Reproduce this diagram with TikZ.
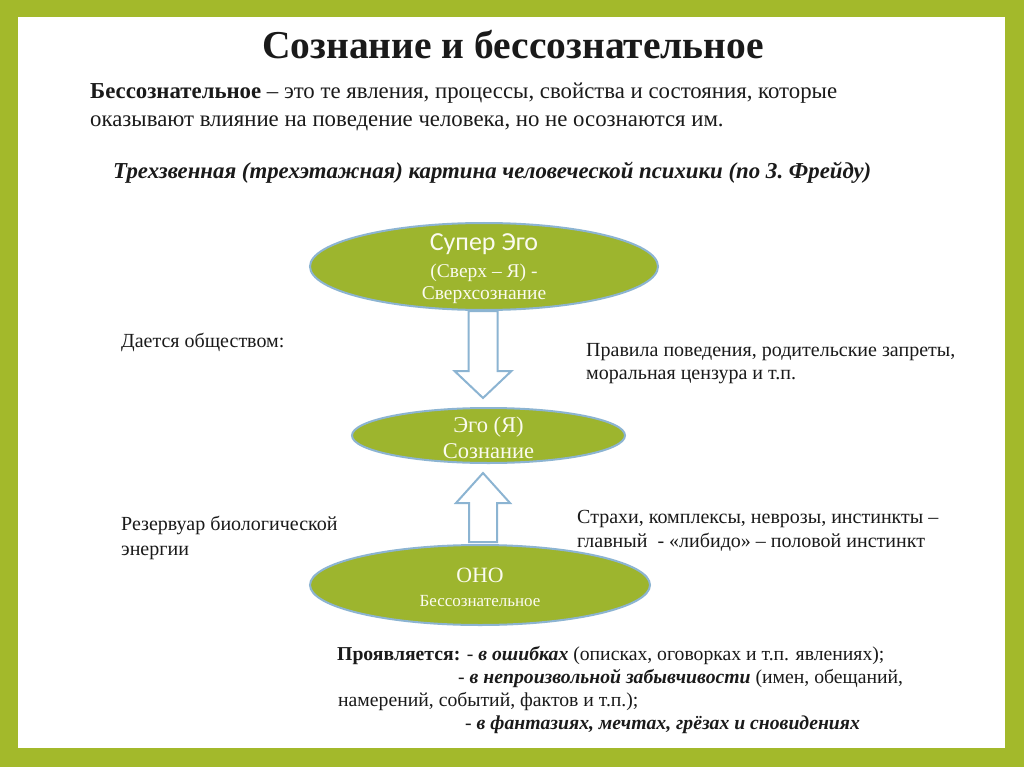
\documentclass[tikz,border=0pt]{standalone}
\usepackage{fontspec}
\setmainfont{Liberation Serif}
\newfontfamily\carl{Carlito}
\usetikzlibrary{shapes.geometric,calc}
\definecolor{frame}{HTML}{A3B92B}
\definecolor{olive}{HTML}{9DB52E}
\definecolor{edge}{HTML}{8CB4D2}
\definecolor{cream}{HTML}{FBFBEF}
\definecolor{ink}{HTML}{1A1A1A}
\tikzset{
  oval/.style={ellipse, draw=edge, line width=2pt, fill=olive, inner sep=0pt},
  ovaltext/.style={anchor=base, inner sep=0pt, text=cream, align=center},
  blockarrow/.style={draw=edge, line width=2pt, fill=white, line join=miter},
  txt/.style={anchor=base west, inner sep=0pt, text=ink, align=left},
}
\begin{document}
\begin{tikzpicture}[x=1pt,y=-1pt]
\useasboundingbox (0,0) rectangle (1024,767);
\fill[frame] (0,0) rectangle (1024,767);
\fill[white] (18,17) rectangle (1005,748);
% title
\node[anchor=base, inner sep=0pt, text=ink, font=\fontsize{39.5}{44}\selectfont\bfseries] (title) at (513,59) {Сознание и бессознательное};
\node[txt, font=\fontsize{22.8}{27.5}\selectfont] (def) at (90,126.5) {\textbf{Бессознательное} – это те явления, процессы, свойства и состояния, которые\\ оказывают влияние на поведение человека, но не осознаются им.};
\node[txt, font=\fontsize{22.8}{26}\selectfont\bfseries\itshape] (sub) at (113,179) {Трехзвенная (трехэтажная) картина человеческой психики (по З. Фрейду)};
% ellipses
\node[oval, minimum width=348, minimum height=87] (sup) at (484,266.5) {};
\node[ovaltext, font=\fontsize{19.5}{22}\selectfont] (suptext) at ($(sup.center)+(0,32.5)$)
  {{\carl\fontsize{26}{22}\selectfont Супер Эго}\\[5pt](Сверх – Я) -\\Сверхсознание};
\node[oval, minimum width=273, minimum height=55] (ego) at (488.5,435.5) {};
\node[ovaltext, font=\fontsize{22.5}{26}\selectfont] (egotext) at ($(ego.center)+(0,23)$)
  {Эго (Я)\\Сознание};
\node[oval, minimum width=340, minimum height=80] (ono) at (480,585) {};
\node[ovaltext, font=\fontsize{17}{24}\selectfont] (onotext) at ($(ono.center)+(0,21.5)$)
  {{\fontsize{21.8}{24}\selectfont ОНО}\\Бессознательное};
\coordinate (ax) at (483,0);
% down arrow
\draw[blockarrow] ($(sup.south -| ax)+(-14.5,0)$) -- ($(sup.south -| ax)+(14.5,0)$)
  -- ($(ego.north -| ax)+(14.5,-36)$) -- ($(ego.north -| ax)+(28.5,-36)$)
  -- ($(ego.north -| ax)+(0,-9)$) -- ($(ego.north -| ax)+(-28.5,-36)$)
  -- ($(ego.north -| ax)+(-14.5,-36)$) -- cycle;
% up arrow
\draw[blockarrow] ($(ono.north -| ax)+(-14,-2)$) -- ($(ono.north -| ax)+(14,-2)$)
  -- ($(ego.south -| ax)+(14,39)$) -- ($(ego.south -| ax)+(27,39)$)
  -- ($(ego.south -| ax)+(0,9)$) -- ($(ego.south -| ax)+(-27,39)$)
  -- ($(ego.south -| ax)+(-14,39)$) -- cycle;
% side texts
\node[txt, font=\fontsize{20}{22.7}\selectfont] (soc) at (121,347) {Дается обществом:};
\node[txt, font=\fontsize{20}{23}\selectfont] (rules) at (586,379) {Правила поведения, родительские запреты,\\ моральная цензура и т.п.};
\node[txt, font=\fontsize{20}{24.5}\selectfont] (res) at (121,555) {Резервуар биологической\\ энергии};
\node[txt, font=\fontsize{20}{23.5}\selectfont] (fear) at (577,547) {Страхи, комплексы, неврозы, инстинкты –\\ главный\ \ - «либидо» – половой инстинкт};
% bottom
\node[txt, font=\fontsize{19.7}{23}\selectfont] (b1) at (337,660) {\textbf{Проявляется:} - \textbf{\itshape в ошибках} (описках, оговорках и т.п. явлениях);};
\node[txt, font=\fontsize{19.7}{23}\selectfont] (b2) at (458,683.5) {- \textbf{\itshape в непроизвольной забывчивости} (имен, обещаний,};
\node[txt, font=\fontsize{19.7}{23}\selectfont] (b3) at (338,706.5) {намерений, событий, фактов и т.п.);};
\node[txt, font=\fontsize{19.7}{23}\selectfont] (b4) at (465,729.5) {- \textbf{\itshape в фантазиях, мечтах, грёзах и сновидениях}};
\end{tikzpicture}
\end{document}
